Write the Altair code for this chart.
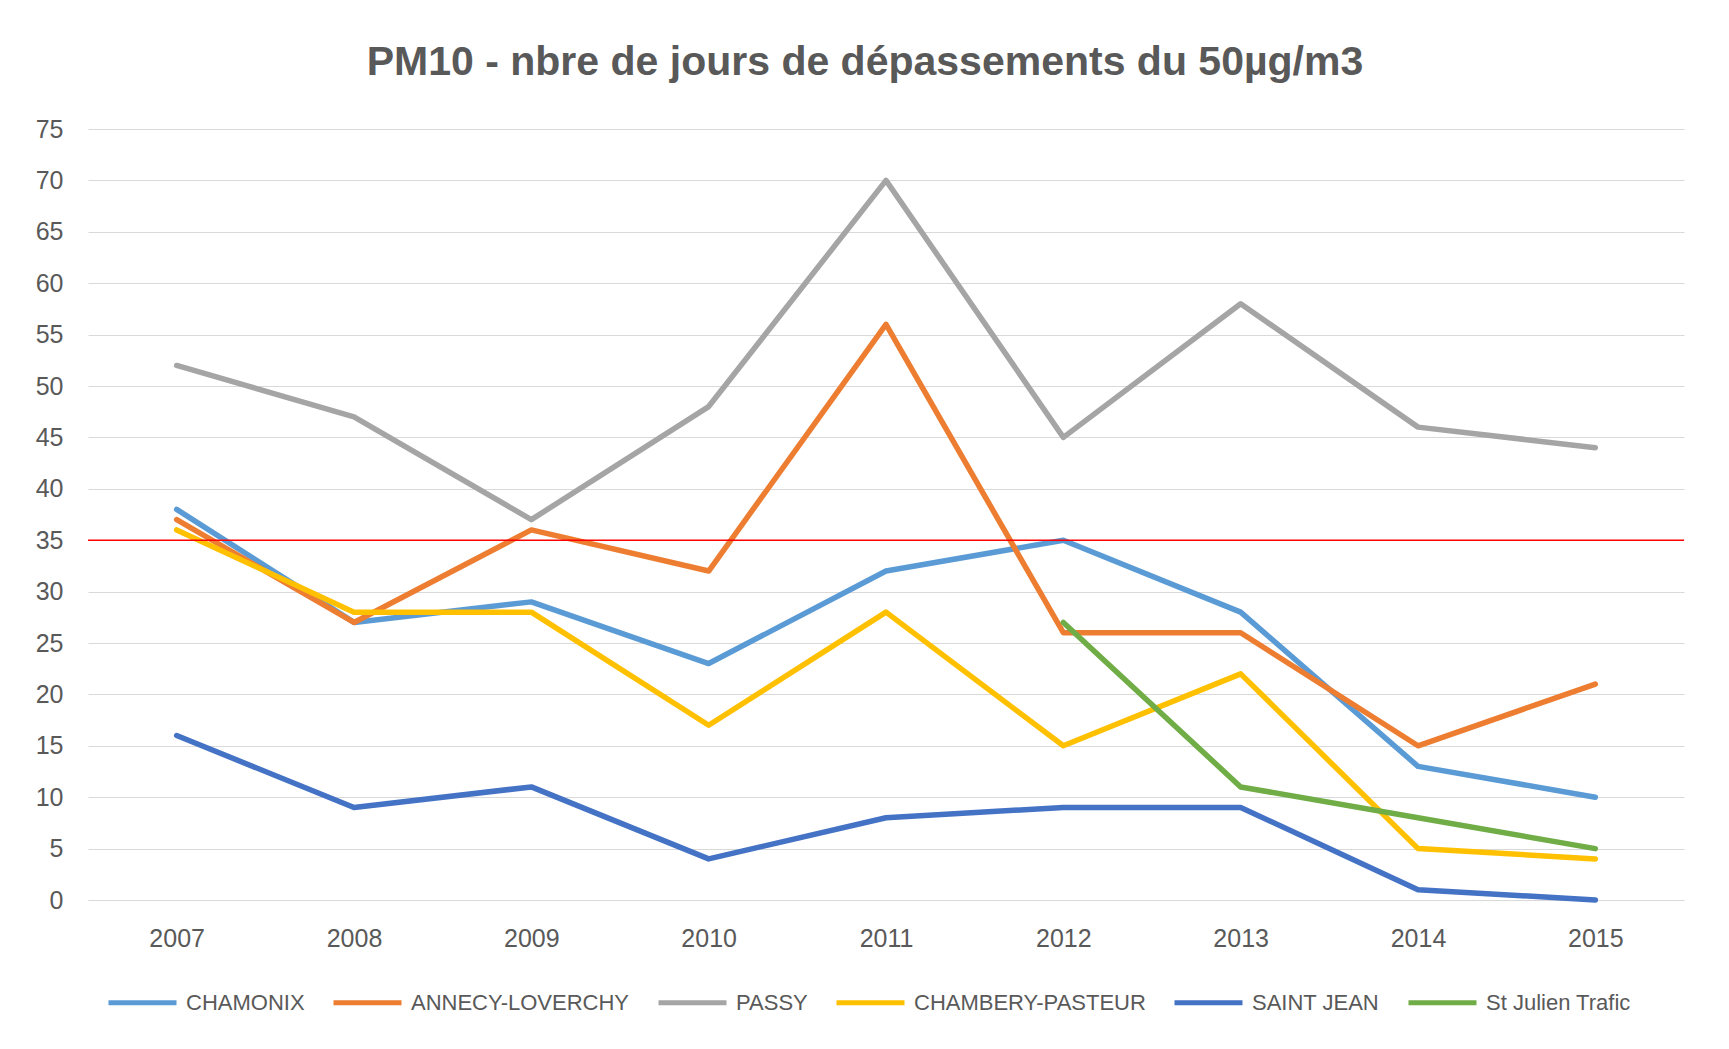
import altair as alt
import pandas as pd

years = ["2007", "2008", "2009", "2010", "2011", "2012", "2013", "2014", "2015"]
series_names = ["CHAMONIX", "ANNECY-LOVERCHY", "PASSY", "CHAMBERY-PASTEUR", "SAINT JEAN", "St Julien Trafic"]
chamonix = [38, 27, 29, 23, 32, 35, 28, 13, 10]
annecy = [37, 27, 36, 32, 56, 26, 26, 15, 21]
passy = [52, 47, 37, 48, 70, 45, 58, 46, 44]
chambery = [36, 28, 28, 17, 28, 15, 22, 5, 4]
saint_jean = [16, 9, 11, 4, 8, 9, 9, 1, 0]
st_julien = [None, None, None, None, None, 27, 11, 8, 5]
colors = ["#5B9BD5", "#ED7D31", "#A5A5A5", "#FFC000", "#4472C4", "#70AD47"]
threshold = [35]
y_ticks = list(range(0, 80, 5))

rows = []
for name, vals in zip(series_names, [chamonix, annecy, passy, chambery, saint_jean, st_julien]):
    for yr, v in zip(years, vals):
        if v is not None:
            rows.append({"Année": yr, "Station": name, "Jours": v})
df = pd.DataFrame(rows)
thr = pd.DataFrame({"seuil": threshold})

FONT = "Liberation Sans, Arial, sans-serif"

lines = alt.Chart(df).mark_line(strokeWidth=5.5, strokeJoin="round", strokeCap="round").encode(
    x=alt.X("Année:O", sort=years, title=None,
            axis=alt.Axis(labelAngle=0, labelFontSize=25, labelColor="#595959", labelFont=FONT,
                          labelPadding=26, ticks=False, domain=True, domainColor="#D9D9D9",
                          grid=False)),
    y=alt.Y("Jours:Q", title=None, scale=alt.Scale(domain=[0, 75], nice=False),
            axis=alt.Axis(values=y_ticks, labelFontSize=25, labelColor="#595959", labelFont=FONT,
                          labelPadding=25, ticks=False, domain=False, grid=True,
                          gridColor="#D9D9D9", gridWidth=1.2)),
    color=alt.Color("Station:N", scale=alt.Scale(domain=series_names, range=colors),
                    legend=alt.Legend(title=None, orient="none", direction="horizontal",
                                      legendX=18, legendY=837, symbolType="stroke",
                                      symbolSize=4624, symbolStrokeWidth=5, labelFontSize=22,
                                      labelFont=FONT, labelColor="#595959", labelOffset=7,
                                      labelLimit=0, columnPadding=18, columns=6)),
)

rule = alt.Chart(thr).mark_rule(color="#FF0000", strokeWidth=1.6).encode(y="seuil:Q")

chart = alt.layer(lines, rule).properties(
    width=1596, height=771,
    background="white",
    title=alt.TitleParams("PM10 - nbre de jours de dépassements du 50µg/m3", fontSize=41,
                          font=FONT, fontWeight="bold", color="#595959", anchor="middle",
                          dx=-21, offset=33),
    autosize=alt.AutoSizeParams(type="none"),
    padding={"left": 80, "top": 121, "right": 30, "bottom": 130},
).configure_view(stroke=None)

chart.save("out.html", embed_options={"renderer": "svg", "actions": False})
